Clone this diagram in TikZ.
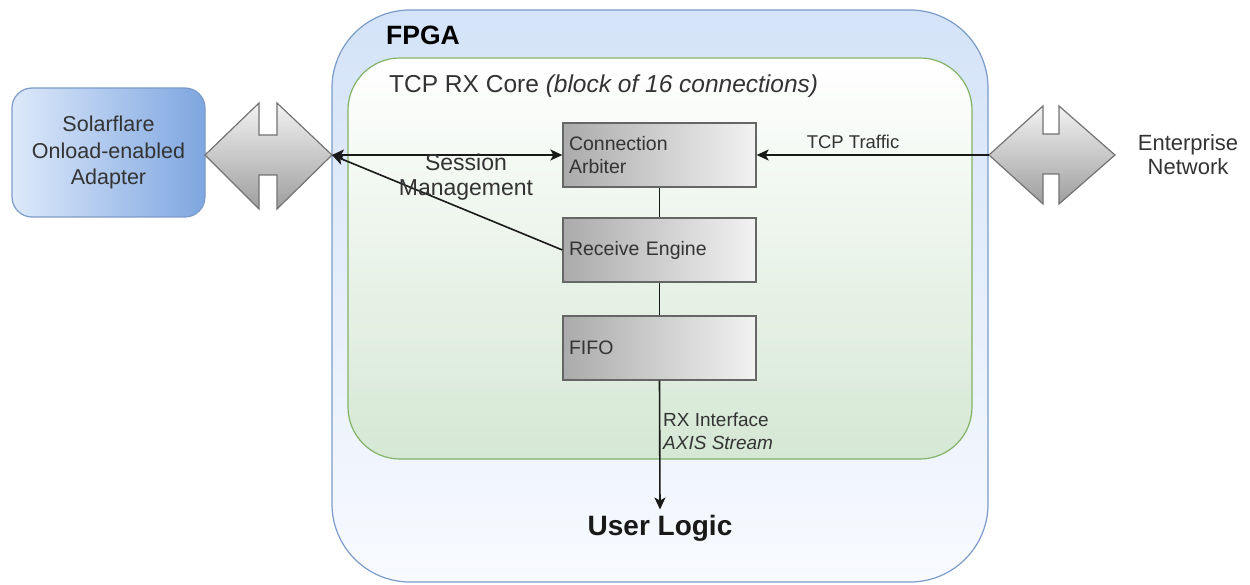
\documentclass[tikz,border=0pt]{standalone}
\usepackage{fontspec}
\setmainfont{Liberation Sans}
\usetikzlibrary{arrows.meta}
\definecolor{fpgatop}{HTML}{D4E3F8}
\definecolor{fpgabot}{HTML}{F8FAFE}
\definecolor{fpgaline}{HTML}{7B9BC9}
\definecolor{corebot}{HTML}{D5E8D4}
\definecolor{coreline}{HTML}{82B366}
\definecolor{sfleft}{HTML}{DDE9FA}
\definecolor{sfright}{HTML}{7EA6E0}
\definecolor{txt}{HTML}{333333}
\begin{document}
\begin{tikzpicture}[x=1pt,y=-1pt,
  >={Stealth[length=12pt,width=11pt,inset=3pt]},
  fpgabox/.style={draw=fpgaline, line width=1.2pt, top color=fpgatop, bottom color=fpgabot, rounded corners=78pt, inner sep=0pt},
  corebox/.style={draw=coreline, line width=1.2pt, top color=white, bottom color=corebot, rounded corners=52pt, inner sep=0pt},
  sfbox/.style={draw=fpgaline, line width=1.2pt, left color=sfleft, right color=sfright, rounded corners=20pt, minimum width=193pt, minimum height=129pt, align=center, text=txt, font=\fontsize{21.5}{26.5}\selectfont},
  blockbox/.style={draw=black!60, line width=1.3pt, left color=black!33, right color=black!5, minimum width=193pt, minimum height=64pt, inner xsep=6pt, inner ysep=0pt, text width=181pt, align=left, text=txt, font=\fontsize{19.5}{23}\selectfont},
  dblarrow/.style={draw=black!55, line width=1.2pt, top color=black!5, bottom color=black!38},
  conn/.style={line width=1.6pt, draw=black!90},
  lbl/.style={text=txt, inner sep=0pt}
]
\useasboundingbox (0,0) rectangle (1250,585);

% containers
\node[fpgabox, minimum width=656pt, minimum height=572pt] (fpga) at (660,296) {};
\node[corebox, minimum width=624pt, minimum height=401pt] (core) at (660,258.5) {};
\node[anchor=base west, inner sep=0pt, font=\fontsize{26.5}{30}\selectfont\bfseries] (fpgalbl) at (386,45) {FPGA};
\node[anchor=base west, lbl, font=\fontsize{24.5}{28}\selectfont] (corelbl) at (389,93) {TCP RX Core \textit{(block of 16 connections)}};

% adapter
\node[sfbox] (sf) at (108.5,152.5) {Solarflare\\Onload-enabled\\Adapter};

% double arrows
\draw[dblarrow] (205,155) -- (259,103) -- (259,135) -- (277,135) -- (277,103) -- (332,155)
  -- (277,209) -- (277,175) -- (259,175) -- (259,209) -- cycle;
\coordinate (la) at (332,155);
\draw[dblarrow] (989,155) -- (1043,106) -- (1043,134) -- (1059,134) -- (1059,106) -- (1115,155)
  -- (1059,204) -- (1059,174) -- (1043,174) -- (1043,204) -- cycle;
\coordinate (ra) at (989,155);
\node[lbl, align=center, font=\fontsize{22}{24}\selectfont] (net) at (1188,155) {Enterprise\\Network};

% blocks
\node[blockbox] (ca) at (659.5,155) {Connection\\Arbiter};
\node[blockbox] (re) at (659.5,250) {Receive Engine};
\node[blockbox] (fifo) at (659.5,348) {FIFO};
\node[inner xsep=0pt, inner ysep=5pt, anchor=base, font=\fontsize{28}{32}\selectfont\bfseries, text=black!90] (user) at (660,535) {User Logic};

% connectors
\draw[conn, <->] (la) -- (ca.west);
\draw[conn, ->] (re.west) -- (la);
\draw[conn, ->] (ra) -- (ca.east);
\draw[conn] (ca.south) -- (re.north);
\draw[conn] (re.south) -- (fifo.north);
\draw[conn, ->] (fifo.south) -- (user.north);

% labels
\node[lbl, align=center, font=\fontsize{23}{25}\selectfont] (sess) at (466,177) {Session\\Management};
\node[lbl, anchor=base, font=\fontsize{18.5}{22}\selectfont] (tcp) at (853,149) {TCP Traffic};
\node[lbl, anchor=west, align=left, font=\fontsize{19}{23}\selectfont] (rx) at (663,431) {RX Interface\\\textit{AXIS Stream}};
\end{tikzpicture}
\end{document}
